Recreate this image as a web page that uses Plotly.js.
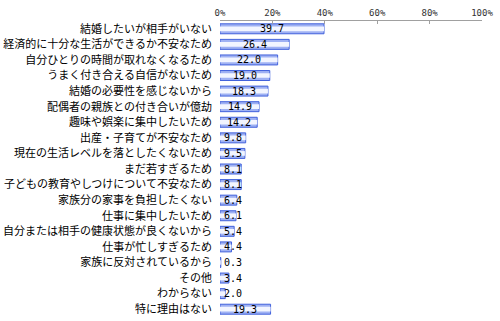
<!DOCTYPE html>
<html>
<head>
<meta charset="utf-8">
<script src="https://cdn.plot.ly/plotly-3.0.1.min.js"></script>
<style>html,body{margin:0;padding:0;background:#fff;}#chart{width:500px;height:321px;}</style>
</head>
<body>
<div id="chart"></div>
<script>
const categories = [
  "結婚したいが相手がいない",
  "経済的に十分な生活ができるか不安なため",
  "自分ひとりの時間が取れなくなるため",
  "うまく付き合える自信がないため",
  "結婚の必要性を感じないから",
  "配偶者の親族との付き合いが億劫",
  "趣味や娯楽に集中したいため",
  "出産・子育てが不安なため",
  "現在の生活レベルを落としたくないため",
  "まだ若すぎるため",
  "子どもの教育やしつけについて不安なため",
  "家族分の家事を負担したくない",
  "仕事に集中したいため",
  "自分または相手の健康状態が良くないから",
  "仕事が忙しすぎるため",
  "家族に反対されているから",
  "その他",
  "わからない",
  "特に理由はない"
];
const values = [39.7, 26.4, 22.0, 19.0, 18.3, 14.9, 14.2, 9.8, 9.5, 8.1, 8.1, 6.4, 6.1, 5.4, 4.4, 0.3, 3.4, 2.0, 19.3];
const tickVals = [0, 20, 40, 60, 80, 100];
const tickText = ["0%", "20%", "40%", "60%", "80%", "100%"];

const outer = {
  type: 'bar', orientation: 'h', x: values, y: categories,
  width: 0.64,
  marker: {color: '#9fb1f3', line: {color: '#4262dc', width: 1}},
  hoverinfo: 'skip'
};
const inner = {
  type: 'bar', orientation: 'h', x: values, y: categories,
  width: 0.3,
  marker: {color: '#f2f5ff', line: {width: 0}},
  hoverinfo: 'skip'
};

const annotations = values.map((v, i) => ({
  x: Math.max(v / 2, 5), y: categories[i], xref: 'x', yref: 'y',
  text: v.toFixed(1), showarrow: false, xanchor: 'center', yanchor: 'middle',
  font: {family: 'DejaVu Sans Mono, monospace', size: 10, color: '#000'}
}));

const layout = {
  width: 500, height: 321,
  margin: {l: 220, r: 18, t: 21, b: 4, pad: 0},
  paper_bgcolor: '#fff', plot_bgcolor: '#fff',
  barmode: 'overlay', showlegend: false,
  xaxis: {
    side: 'top', range: [0, 100], tickmode: 'array', tickvals: tickVals, ticktext: tickText,
    showgrid: false, zeroline: false, showline: true, linecolor: '#a0a0a0', linewidth: 1,
    ticks: 'inside', ticklen: 3, tickcolor: '#a0a0a0',
    tickfont: {family: 'DejaVu Sans Mono, monospace', size: 9, color: '#333'}
  },
  yaxis: {
    type: 'category', autorange: 'reversed', showgrid: false, zeroline: false, showline: false,
    ticks: '', ticklabelstandoff: 7,
    tickfont: {family: 'Noto Sans CJK JP', size: 11, color: '#000'}
  },
  annotations: annotations
};

Plotly.newPlot('chart', [outer, inner], layout, {displayModeBar: false, staticPlot: true});
</script>
</body>
</html>
